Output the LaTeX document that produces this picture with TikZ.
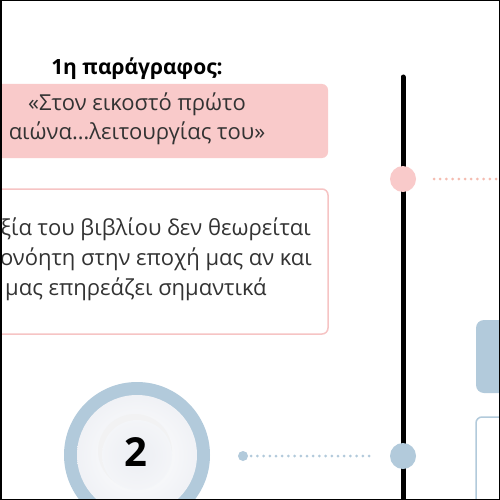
\documentclass[tikz,border=0pt]{standalone}
\usepackage{fontspec}
\setmainfont{Open Sans}
\begin{document}
\begin{tikzpicture}[x=1pt,y=-1pt,
  txt/.style={text=black!80, font=\fontsize{22}{29.5}\selectfont, inner sep=0pt, align=center},
  pinkbox/.style={fill=pinkc, rounded corners=6pt},
  pinkframe/.style={draw=pinkl, line width=1.5pt, fill=white, rounded corners=6pt},
  bluebox/.style={fill=bluec, rounded corners=8pt},
  blueframe/.style={draw=bluec, line width=1.5pt, fill=white, rounded corners=6pt},
  dotline/.style={line width=3pt, line cap=round, dash pattern=on 0pt off 6.2pt},
]
\definecolor{pinkc}{HTML}{F9CACA}
\definecolor{pinkl}{HTML}{F6C4C4}
\definecolor{pinkdot}{HTML}{F5BCB0}
\definecolor{bluec}{HTML}{B2CADB}
\definecolor{innerg}{HTML}{ECEEF3}
\useasboundingbox (0,0) rectangle (500,500);
\clip (0,0) rectangle (500,500);
\fill[white] (0,0) rectangle (500,500);

% title
\node[font=\bfseries\fontsize{21}{22}\selectfont, inner sep=0pt] (title) at (137,69) {1η παράγραφος:};

% pink quote box
\path[pinkbox] (-20,84) rectangle (328,158);
\node[txt] (quote) at (137,119) {«Στον εικοστό πρώτο\\αιώνα…λειτουργίας του»};

% framed text box
\path[pinkframe] (-20,189) rectangle (328,334);
\node[txt, anchor=east] (l1) at (311,229) {ξία του βιβλίου δεν θεωρείται};
\node[txt, anchor=east] (l2) at (312,259) {ονόητη στην εποχή μας αν και};
\node[txt, anchor=west] (l3) at (5,289) {μας επηρεάζει σημαντικά};

% timeline
\coordinate (ttop) at (403,77);
\coordinate (tbot) at (403,520);
\draw[line width=5pt, line cap=round] (ttop) -- (tbot);
\node[circle, fill=pinkc, minimum size=26pt, inner sep=0pt] (pdot) at (403,179) {};
\node[circle, fill=bluec, minimum size=26pt, inner sep=0pt] (bdot) at (403,456) {};

% dotted connectors
\coordinate (pend) at (505,179);
\coordinate (pstart) at (434,179);
\draw[dotline, pinkdot] (pstart) -- (pend);
\node[circle, fill=bluec, minimum size=10pt, inner sep=0pt] (sdot) at (243,456) {};
\coordinate (bend) at (370,456);
\draw[dotline, bluec] (sdot.east) ++(3,0) -- (bend);

% right boxes
\path[bluebox] (476,320) rectangle (530,393);
\path[blueframe] (476,417) rectangle (530,530);

% number circle
\fill[bluec] (137,455) circle (73);
\shade[inner color=white, outer color=innerg!80] (137,455) circle (60);
\fill[black!6, opacity=0.6] (135,451) circle (37);
\shade[inner color=innerg, outer color=innerg!60] (137,455) circle (35);
\node[font=\bfseries\fontsize{40}{40}\selectfont, inner sep=0pt] (num) at (136,452) {2};

% frame
\draw[line width=3pt] (0,0) rectangle (500,500);
\end{tikzpicture}
\end{document}
